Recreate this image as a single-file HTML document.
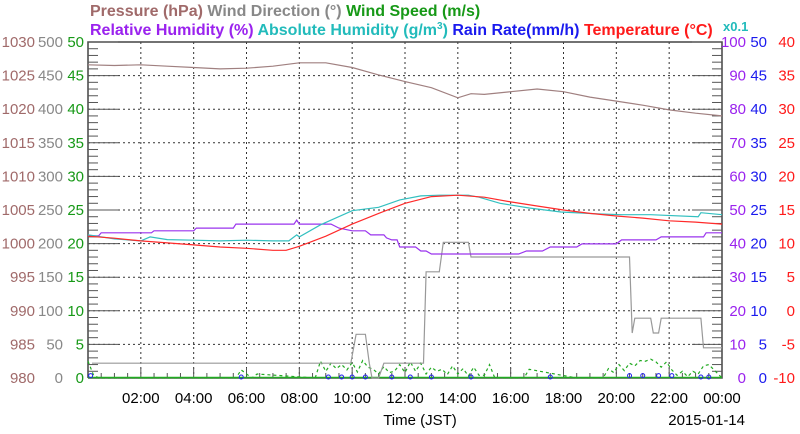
<!DOCTYPE html>
<html><head><meta charset="utf-8"><style>
body{margin:0;background:#fff;}
svg{display:block;font-family:"Liberation Sans",Arial,sans-serif;}
</style></head><body>
<svg id="chart" width="800" height="434" viewBox="0 0 800 434">
<g id="legend" font-size="16" font-weight="bold">
<text x="90" y="16"><tspan fill="#a06a6a">Pressure (hPa)</tspan> <tspan fill="#888">Wind Direction (°)</tspan> <tspan fill="#179917">Wind Speed (m/s)</tspan></text>
<text x="90" y="35"><tspan fill="#9a22ee">Relative Humidity (%)</tspan> <tspan fill="#22bbbb">Absolute Humidity (g/m<tspan font-size="10" dy="-6">3</tspan><tspan dy="6">)</tspan></tspan> <tspan fill="#1a1aee">Rain Rate(mm/h)</tspan> <tspan fill="#ff1a1a">Temperature (°C)</tspan></text>
<text x="723" y="31" fill="#22bbbb" font-size="13">x0.1</text>
</g>
<g id="grid"></g><g id="axes"></g><g id="series"></g><g id="labels"></g>
<text x="420" y="425" font-size="15" text-anchor="middle">Time (JST)</text>
<text x="745" y="425" font-size="15" text-anchor="end">2015-01-14</text>
</svg>
<script>
const NS="http://www.w3.org/2000/svg";
const X0=88,X1=722,Y0=42,Y1=378;
const xTickLabels=["02:00","04:00","06:00","08:00","10:00","12:00","14:00","16:00","18:00","20:00","22:00","00:00"];
const pressureTicks=[980,985,990,995,1000,1005,1010,1015,1020,1025,1030];
const windDirTicks=[0,50,100,150,200,250,300,350,400,450,500];
const windSpeedTicks=[0,5,10,15,20,25,30,35,40,45,50];
const rhTicks=[0,10,20,30,40,50,60,70,80,90,100];
const rainTicks=[0,5,10,15,20,25,30,35,40,45,50];
const tempTicks=[-10,-5,0,5,10,15,20,25,30,35,40];
const tempHours=[0,1,2,3,4,5,6,7,7.5,8,9,10,11,12,13,14,15,16,17,18,19,20,21,22,23,24];
const tempValues=[11.1,10.8,10.4,10.1,9.8,9.5,9.3,9.0,9.0,9.6,11.1,12.9,14.5,16.0,17.0,17.2,16.9,16.2,15.6,15.0,14.5,14.1,13.8,13.4,13.2,12.9];
const rhHours=[0,0.4,0.5,2.4,2.5,4.0,4.1,5.5,5.6,7.8,7.9,8.0,9.2,9.5,10.0,10.5,10.7,11.2,11.3,11.5,11.7,11.8,12.4,12.6,12.8,13.0,16.3,16.6,17.2,17.5,18.5,18.7,20.0,20.2,21.5,21.7,23.3,23.4,24];
const rhValues=[42.3,42.3,43.2,43.2,43.8,43.8,44.6,44.6,45.8,45.8,47,45.8,45.8,44.6,43.8,43.8,42.6,42.6,41.7,41.1,41.1,39.0,39.0,37.8,37.8,36.9,36.9,37.8,37.8,39.0,39.0,39.9,39.9,41.1,41.1,42.0,42.0,43.2,43.2];
const ahHours=[0,1,2,2.35,3,4,5,6,7,7.6,7.9,8.0,8.8,10,11,11.8,12.6,13.3,14,14.4,14.8,15.6,16.7,17.9,19.4,20.2,21.3,23.1,23.2,24];
const ahValues=[21.3,20.7,20.4,21.0,20.6,20.5,20.4,20.5,20.4,20.4,21.3,21.0,22.8,24.9,25.4,26.5,27.1,27.2,27.2,27.2,26.9,26.0,25.3,24.7,24.4,24.3,24.3,24.0,24.6,24.3];
const presHours=[0,1,2,3,4,5,6,7,8,9,10,11,12,13,14,14.5,15,16,17,18,19,20,21,22,23,24];
const presValues=[1026.6,1026.5,1026.6,1026.4,1026.2,1026.0,1026.1,1026.4,1026.9,1026.9,1026.2,1025.1,1024.1,1023.2,1021.7,1022.3,1022.2,1022.6,1023.0,1022.6,1021.8,1021.2,1020.6,1019.9,1019.4,1019.0];
const wdHours=[0.15,9.95,10.15,10.5,10.65,10.75,11.0,11.2,11.3,12.7,12.8,13.3,13.45,14.4,14.5,20.5,20.6,20.7,21.3,21.4,21.6,21.7,23.2,23.3,24];
const wdValues=[22,22,65,65,22,0,0,22,22,22,158,158,202,202,180,180,67,89,89,67,67,89,89,45,45];
const wsHours=[0,0.2,0.4,5.6,5.8,6.2,6.4,8.6,8.8,9.0,9.2,9.4,9.6,9.8,10.0,10.2,10.4,10.6,10.8,11.0,11.2,11.4,11.6,11.8,12.0,12.2,12.4,12.6,12.8,13.0,13.2,13.4,13.6,13.8,14.0,14.2,14.4,14.6,14.8,15.0,15.2,15.4,16.5,16.7,18.5,19.5,19.7,19.9,20.1,20.3,20.5,20.7,20.9,21.1,21.3,21.5,21.7,21.9,22.1,22.3,22.5,22.7,22.9,23.1,23.3,23.5,23.7,24];
const wsValues=[2.5,0.5,0,0,1.2,0,0.6,0,2.5,1.0,2.2,1.4,2.0,1.2,2.3,0.9,2.6,1.6,1.3,0.6,1.7,0.8,1.0,2.0,0.8,2.4,1.0,2.2,0.6,1.6,1.0,1.3,0.5,1.8,0.6,1.4,0.3,1.6,0.4,0.4,2.0,0,0,1.3,0,0,1.4,0.8,2.0,1.1,2.2,1.8,2.6,2.5,2.8,2.4,1.6,2.4,1.2,0.4,1.0,0.2,1.0,0.6,1.8,2.0,1.2,0];
const rainHours=[0.1,5.8,9.1,9.6,10.0,10.5,11.5,12.2,13.0,14.5,17.5,20.5,21.0,21.6,22.1,23.2,23.5];
const rainValues=[0.2,0,0,0,0,0,0,0,0,0,0,0.2,0.2,0.2,0.2,0,0];
const xs=h=>X0+(X1-X0)*h/24;
const ys=(v,lo,hi)=>Y1-(v-lo)/(hi-lo)*(Y1-Y0);
function el(tag,attrs,parent){const e=document.createElementNS(NS,tag);for(const k in attrs)e.setAttribute(k,attrs[k]);parent.appendChild(e);return e;}
const grid=document.getElementById('grid'),axes=document.getElementById('axes'),series=document.getElementById('series'),labels=document.getElementById('labels');
for(let i=1;i<10;i++){const y=Y0+i*(Y1-Y0)/10;const g=el('line',{x1:X0,x2:X1,y1:y,y2:y,stroke:'#333','stroke-width':1,'stroke-dasharray':'2,3'},grid);

}
for(let i=1;i<12;i++){const x=xs(i*2);const g=el('line',{x1:x,x2:x,y1:Y0,y2:Y1,stroke:'#333','stroke-width':1,'stroke-dasharray':'2,3'},grid);

}
const frame=el('path',{d:`M${X0},${Y1}V${Y0}H${X1}V${Y1}H${X0}`,fill:'none',stroke:'#444','stroke-width':1.5},axes);


for(let i=0;i<=50;i++){const y=Y0+i*(Y1-Y0)/50;const L=i%5==0?30:10;
const t1=el('line',{x1:X0,x2:X0+L,y1:y,y2:y,stroke:'#555','stroke-width':1},axes);


const t2=el('line',{x1:X1,x2:X1-L,y1:y,y2:y,stroke:'#555','stroke-width':1},axes);

}
for(let i=1;i<48;i++){const x=xs(i/2);const L=i%4==0?10:5;
const t=el('line',{x1:x,x2:x,y1:Y1,y2:Y1-L,stroke:'#555','stroke-width':1},axes);

}
function colLabels(arr,x,anchor,color,name){arr.forEach((v,i)=>{const t=el('text',{x:x,y:Y1-i*(Y1-Y0)/10+5,'text-anchor':anchor,fill:color,'font-size':15},labels);t.textContent=v;

});}
colLabels(pressureTicks,35,'end','#a06a6a','pressure-tick-label');
colLabels(windDirTicks,63,'end','#888','wind-direction-tick-label');
colLabels(windSpeedTicks,84,'end','#179917','wind-speed-tick-label');
colLabels(rhTicks,746,'end','#9a22ee','rh-tick-label');
colLabels(rainTicks,767,'end','#1a1aee','rain-tick-label');
colLabels(tempTicks,795,'end','#ff1a1a','temperature-tick-label');
xTickLabels.forEach((s,i)=>{const t=el('text',{x:xs((i+1)*2),y:403,'text-anchor':'middle','font-size':15},labels);t.textContent=s;

});
function line(hs,vs,lo,hi,color,name,extra){const d=hs.map((h,i)=>(i?'L':'M')+xs(h).toFixed(1)+','+ys(vs[i],lo,hi).toFixed(1)).join('');
const p=el('path',Object.assign({d:d,fill:'none',stroke:color,'stroke-width':1.2},extra||{}),series);

}
const base=el('line',{x1:X0,x2:X1,y1:Y1-0.5,y2:Y1-0.5,stroke:'#22aa22','stroke-width':1.5},series);


line(wsHours,wsValues,0,50,'#22aa22','wind-speed-line',{'stroke-dasharray':'3,3'});
line(wdHours,wdValues,0,500,'#999','wind-direction-line');
line(presHours,presValues,980,1030,'#a08080','pressure-line');
line(rhHours,rhValues,0,100,'#9a33ee','relative-humidity-line');
line(ahHours,ahValues,0,50,'#33c0c0','absolute-humidity-line');
line(tempHours,tempValues,-10,40,'#ff2a2a','temperature-line');
rainHours.forEach((h,i)=>{const c=el('circle',{cx:xs(h),cy:ys(rainValues[i],0,50)-1,r:2,fill:'none',stroke:'#2222ee','stroke-width':1},series);

});
</script>
</body></html>
